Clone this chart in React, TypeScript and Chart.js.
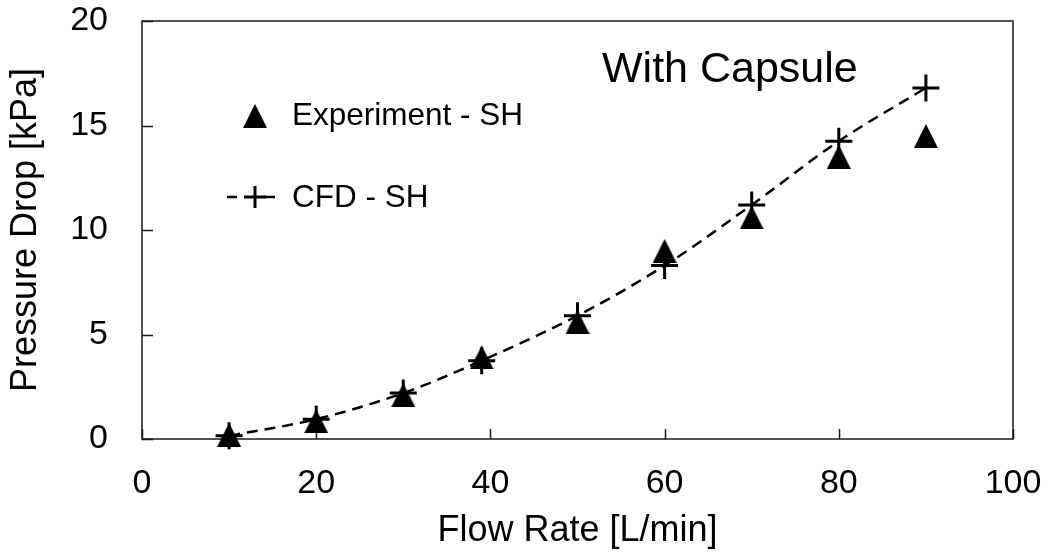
import React, { useEffect, useRef } from "react";
import { Chart, registerables } from "chart.js";

Chart.register(...registerables);

// ---- data ----
const flowRates = [10, 20, 30, 39, 50, 60, 70, 80, 90];
const experimentSH = [0.2, 0.85, 2.1, 3.9, 5.6, 9.0, 10.6, 13.5, 14.5];
const cfdSH = [0.15, 0.95, 2.2, 3.75, 5.9, 8.3, 11.2, 14.25, 16.8];
const xTicks = [0, 20, 40, 60, 80, 100];
const yTicks = [0, 5, 10, 15, 20];

const chartTitle = "With Capsule";
const xTitle = "Flow Rate [L/min]";
const yTitle = "Pressure Drop [kPa]";
const legendExp = "Experiment - SH";
const legendCfd = "CFD - SH";

const FONT = "'Liberation Sans', Arial, Helvetica, sans-serif";

function makeTriangle(size: number): HTMLCanvasElement {
  const c = document.createElement("canvas");
  c.width = size;
  c.height = size;
  const g = c.getContext("2d")!;
  g.fillStyle = "#000";
  g.beginPath();
  g.moveTo(size / 2, 0);
  g.lineTo(size, size);
  g.lineTo(0, size);
  g.closePath();
  g.fill();
  return c;
}

export default function App() {
  const ref = useRef<HTMLCanvasElement | null>(null);

  useEffect(() => {
    document.body.style.margin = "0";
    const canvas = ref.current!;
    const tri = makeTriangle(24);

    const decor = {
      id: "decor",
      beforeDatasetsDraw(chart: any) {
        const { ctx, chartArea: a, scales } = chart;
        const x = scales.x;
        const y = scales.y;
        ctx.save();
        ctx.strokeStyle = "#1a1a1a";
        ctx.lineWidth = 1.5;
        ctx.strokeRect(a.left, a.top, a.right - a.left, a.bottom - a.top);
        ctx.beginPath();
        xTicks.forEach((v) => {
          const px = Math.round(x.getPixelForValue(v)) + 0.5;
          ctx.moveTo(px, a.bottom);
          ctx.lineTo(px, a.bottom - 10);
        });
        yTicks.forEach((v) => {
          const py = Math.round(y.getPixelForValue(v)) + 0.5;
          ctx.moveTo(a.left, py);
          ctx.lineTo(a.left + 11, py);
        });
        ctx.stroke();
        ctx.restore();
      },
      afterDraw(chart: any) {
        const { ctx, chartArea: a } = chart;
        ctx.save();
        ctx.fillStyle = "#000";
        ctx.strokeStyle = "#000";
        // title inside plot
        ctx.font = `43px ${FONT}`;
        ctx.textAlign = "left";
        ctx.textBaseline = "alphabetic";
        ctx.fillText(chartTitle, a.left + 460, a.top + 61);

        // legend: experiment
        const lx = a.left + 113;
        ctx.drawImage(tri, lx - 12, a.top + 95 - 12);
        ctx.font = `31.5px ${FONT}`;
        ctx.fillText(legendExp, a.left + 150, a.top + 104);

        // legend: CFD
        const ly = a.top + 176;
        ctx.lineWidth = 2.5;
        ctx.beginPath();
        ctx.moveTo(a.left + 85, ly);
        ctx.lineTo(a.left + 95, ly);
        ctx.moveTo(a.left + 123, ly);
        ctx.lineTo(a.left + 133, ly);
        ctx.stroke();
        ctx.lineWidth = 3;
        ctx.beginPath();
        ctx.moveTo(lx - 11, ly);
        ctx.lineTo(lx + 11, ly);
        ctx.moveTo(lx, ly - 11);
        ctx.lineTo(lx, ly + 11);
        ctx.stroke();
        ctx.fillText(legendCfd, a.left + 150, a.top + 186);
        ctx.restore();
      },
    };

    const chart = new Chart(canvas, {
      type: "scatter",
      data: {
        datasets: [
          {
            label: legendExp,
            data: flowRates.map((x, i) => ({ x, y: experimentSH[i] })),
            pointStyle: tri as any,
            pointRadius: 12,
            showLine: false,
            clip: false as any,
          },
          {
            label: legendCfd,
            data: flowRates.map((x, i) => ({ x, y: cfdSH[i] })),
            pointStyle: "cross",
            pointRadius: 13.5,
            pointBorderWidth: 3,
            pointBorderColor: "#000",
            borderColor: "#000",
            borderWidth: 2.5,
            borderDash: [11, 7],
            showLine: true,
            tension: 0.35,
            clip: false as any,
          },
        ],
      },
      options: {
        animation: false,
        responsive: false,
        devicePixelRatio: 1,
        layout: { padding: { top: 21, right: 36, left: 0, bottom: 0 } },
        plugins: {
          legend: { display: false },
          tooltip: { enabled: false },
          title: { display: false },
        },
        scales: {
          x: {
            type: "linear",
            min: 0,
            max: 100,
            afterBuildTicks: (s: any) => {
              s.ticks = xTicks.map((v) => ({ value: v }));
            },
            afterFit: (s: any) => {
              s.height = 115;
              s.paddingLeft = 0;
              s.paddingRight = 0;
              s.paddingTop = 0;
              s.paddingBottom = 0;
            },
            grid: { display: false, drawTicks: false },
            border: { display: false },
            ticks: {
              font: { family: FONT, size: 34 },
              color: "#000",
              padding: 24,
              maxRotation: 0,
            },
            title: {
              display: true,
              text: xTitle,
              font: { family: FONT, size: 36 },
              color: "#000",
              padding: { top: 0, bottom: 1 },
            },
          },
          y: {
            type: "linear",
            min: 0,
            max: 20,
            afterBuildTicks: (s: any) => {
              s.ticks = yTicks.map((v) => ({ value: v }));
            },
            afterFit: (s: any) => {
              s.width = 142;
              s.paddingLeft = 0;
              s.paddingRight = 0;
              s.paddingTop = 0;
              s.paddingBottom = 0;
            },
            grid: { display: false, drawTicks: false },
            border: { display: false },
            ticks: {
              font: { family: FONT, size: 34 },
              color: "#000",
              padding: 34,
            },
            title: {
              display: true,
              text: yTitle,
              font: { family: FONT, size: 36 },
              color: "#000",
              padding: { top: 4, bottom: 0 },
            },
          },
        },
      },
      plugins: [decor],
    });

    return () => chart.destroy();
  }, []);

  return (
    <div style={{ width: 1049, height: 554, background: "#fff" }}>
      <canvas ref={ref} width={1049} height={554} style={{ display: "block" }} />
    </div>
  );
}
